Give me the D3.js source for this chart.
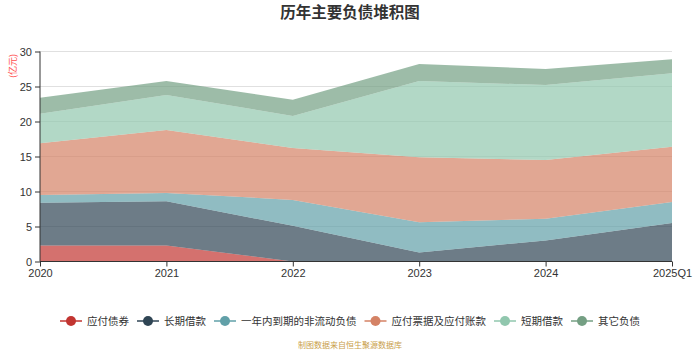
<!DOCTYPE html>
<html>
<head>
<meta charset="utf-8">
<script src="https://cdn.jsdelivr.net/npm/d3@7"></script>
<style>
  body { margin: 0; background: #fff; }
  svg { display: block; font-family: "Noto Sans", "Noto Sans CJK SC", sans-serif; }
</style>
</head>
<body>
<svg width="700" height="350"></svg>
<script>
const years = ["2020", "2021", "2022", "2023", "2024", "2025Q1"];
const seriesNames = ["应付债券", "长期借款", "一年内到期的非流动负债", "应付票据及应付账款", "短期借款", "其它负债"];
const bonds      = [2.3, 2.3, 0, 0, 0, 0];
const longLoans  = [6.1, 6.3, 5.1, 1.3, 3.0, 5.5];
const dueInYear  = [1.1, 1.2, 3.7, 4.3, 3.1, 3.0];
const payables   = [7.4, 9.0, 7.4, 9.3, 8.4, 7.9];
const shortLoans = [4.2, 5.0, 4.6, 10.9, 10.7, 10.5];
const others     = [2.3, 2.0, 2.3, 2.4, 2.3, 2.0];
const yTicks = [0, 5, 10, 15, 20, 25, 30];
const colors = ["#c23531", "#2f4554", "#61a0a8", "#d48265", "#91c7ae", "#749f83"];

const svg = d3.select("svg"),
    margin = {top: 51.5, right: 28, bottom: 88.5, left: 40},
    width = +svg.attr("width") - margin.left - margin.right,
    height = +svg.attr("height") - margin.top - margin.bottom;

const chart = svg.append("g").attr("transform", `translate(${margin.left},${margin.top})`);

const values = [bonds, longLoans, dueInYear, payables, shortLoans, others];
const table = years.map((y, i) => {
  const row = {year: y};
  seriesNames.forEach((s, k) => row[s] = values[k][i]);
  return row;
});
const stacked = d3.stack().keys(seriesNames)(table);

const x = d3.scalePoint().domain(years).range([0, width]);
const y = d3.scaleLinear().domain([0, 30]).range([height, 0]);

// grid
chart.append("g")
  .selectAll("line")
  .data(yTicks.filter(d => d > 0))
  .join("line")
  .attr("x1", 0).attr("x2", width)
  .attr("y1", d => y(d)).attr("y2", d => y(d))
  .attr("stroke", "#e0e0e0");

const area = d3.area()
  .x(d => x(d.data.year))
  .y0(d => y(d[0]))
  .y1(d => y(d[1]));

chart.append("g")
  .selectAll("path")
  .data(stacked)
  .join("path")
  .attr("d", area)
  .attr("fill", (d, i) => colors[i])
  .attr("fill-opacity", 0.7);

// axes
const xAxis = chart.append("g")
  .attr("transform", `translate(0,${height})`)
  .call(d3.axisBottom(x).tickSize(5).tickPadding(3));
const yAxis = chart.append("g")
  .call(d3.axisLeft(y).tickValues(yTicks).tickSize(5).tickPadding(3));
[xAxis, yAxis].forEach(a => {
  a.select(".domain").attr("stroke", "#333");
  a.selectAll(".tick line").attr("stroke", "#333");
  a.selectAll(".tick text").attr("fill", "#333").style("font-size", "11px");
});
yAxis.select(".domain").attr("d", `M0,${height}V0`);
xAxis.select(".domain").attr("d", `M0,0H${width}`);

svg.append("text")
  .attr("transform", "translate(14,66) rotate(-90)")
  .attr("text-anchor", "middle")
  .attr("dominant-baseline", "middle")
  .attr("fill", "#ff4d4d")
  .style("font-size", "9px")
  .style("font-family", "'Noto Sans CJK SC', sans-serif")
  .text("(亿元)");

// title
svg.append("text")
  .attr("x", 350).attr("y", 18)
  .attr("text-anchor", "middle")
  .attr("fill", "#333")
  .style("font-size", "15.5px")
  .style("font-weight", "bold")
  .style("font-family", "'Noto Sans CJK SC', sans-serif")
  .text("历年主要负债堆积图");

// legend
const legend = svg.append("g");
const items = legend.selectAll("g")
  .data(seriesNames)
  .join("g");
items.append("line")
  .attr("x1", -11).attr("x2", 11)
  .attr("stroke", (d, i) => colors[i]).attr("stroke-width", 1.5);
items.append("circle")
  .attr("r", 5)
  .attr("fill", (d, i) => colors[i]);
items.append("text")
  .attr("x", 16).attr("y", 4)
  .attr("fill", "#333")
  .style("font-size", "10.5px")
  .style("font-family", "'Noto Sans CJK SC', sans-serif")
  .text(d => d);
let pos = 0;
items.each(function() {
  const w = d3.select(this).select("text").node().getComputedTextLength();
  d3.select(this).attr("transform", `translate(${pos},321)`);
  pos += 16 + w + 19;
});
const total = pos - 19 + 11;
legend.attr("transform", `translate(${350 - total / 2 + 11},0)`);

svg.append("text")
  .attr("x", 350).attr("y", 348)
  .attr("text-anchor", "middle")
  .attr("fill", "#c9a04a")
  .style("font-size", "8px")
  .style("font-family", "'Noto Sans CJK SC', sans-serif")
  .text("制图数据来自恒生聚源数据库");
</script>
</body>
</html>
